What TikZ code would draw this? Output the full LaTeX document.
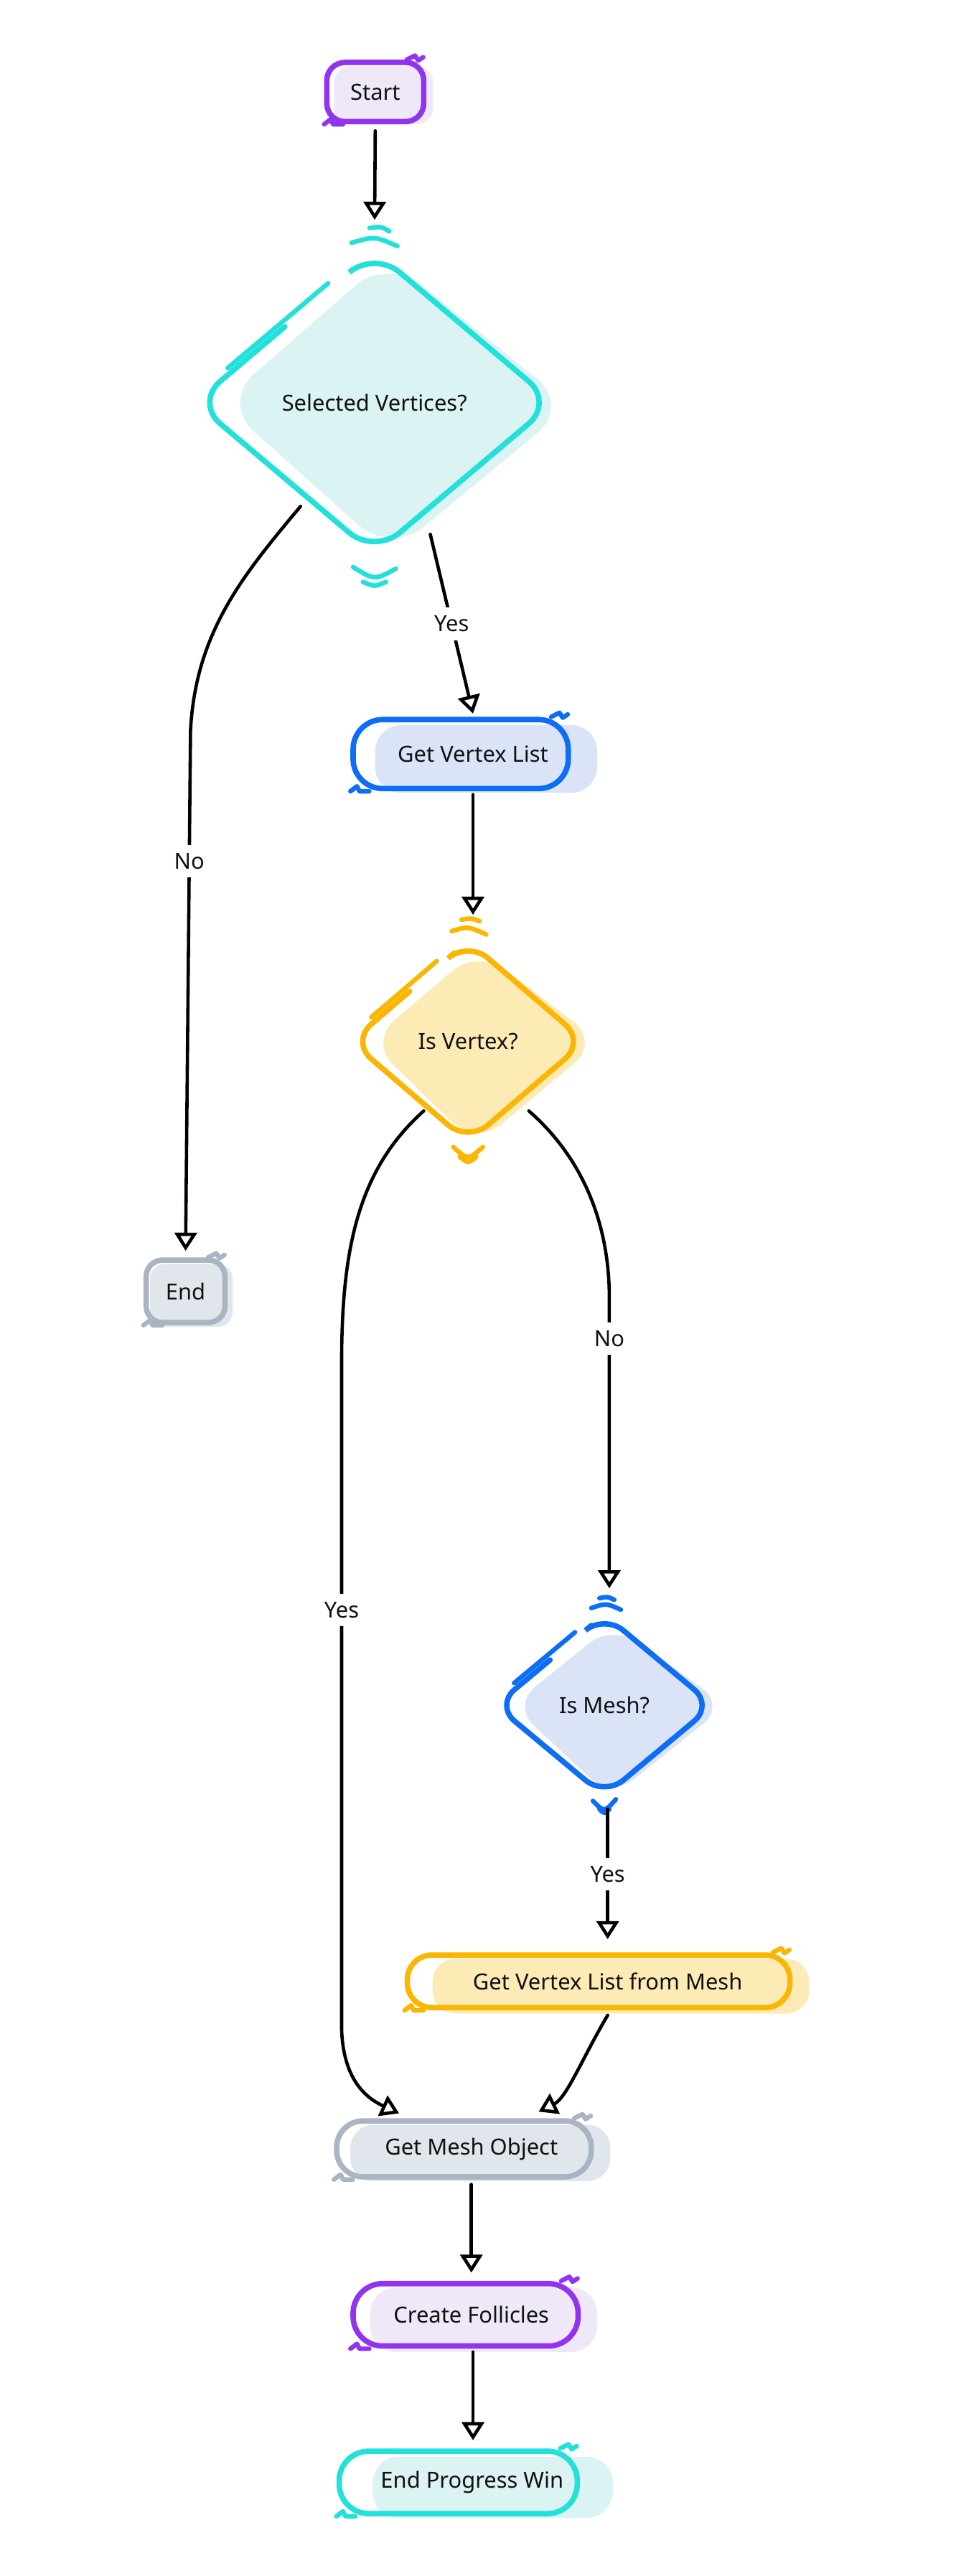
\documentclass[tikz,border=0pt]{standalone}
\usepackage{fontspec}
\setmainfont{Noto Sans}
\usetikzlibrary{arrows.meta,shapes.geometric,backgrounds,calc}
\definecolor{purS}{HTML}{9233F0}
\definecolor{purF}{HTML}{EEE8F8}
\definecolor{tealS}{HTML}{22E0DA}
\definecolor{tealF}{HTML}{DBF3F2}
\definecolor{bluS}{HTML}{0D6EF5}
\definecolor{bluF}{HTML}{DBE4F6}
\definecolor{yelS}{HTML}{FBB603}
\definecolor{yelF}{HTML}{FDEBB6}
\definecolor{gryS}{HTML}{A9B5C3}
\definecolor{gryF}{HTML}{E1E6EC}
\definecolor{ink}{HTML}{111111}
\tikzset{
  box/.style={draw=#1, line width=3.3pt, inner sep=0pt, text=ink},
  dia/.style={diamond, draw=none, inner sep=0pt, text=ink},
  dstroke/.style={draw=#1, line width=3.3pt, line cap=round},
  thin mark/.style={draw=#1, line width=2.8pt, line cap=round, line join=round},
  conn/.style={draw=black, line width=2pt, line cap=round,
    -{Triangle[open, length=11pt, width=13.5pt, line width=2pt]}},
  lbl/.style={fill=white, inner xsep=2pt, inner ysep=5pt, text=ink},
}
\begin{document}
\begin{tikzpicture}[x=1pt,y=-1pt, font=\fontsize{13.5}{16}\selectfont]
\useasboundingbox (0,0) rectangle (582,1568);

% ---------- nodes ----------
\node[box=purS, minimum width=59pt, minimum height=36pt, rounded corners=11pt] (start) at (228.5,56) {Start};
\node[dia, minimum width=218pt, minimum height=184pt] (sv) at (228,245) {Selected Vertices?};
\node[box=bluS, minimum width=131pt, minimum height=42pt, rounded corners=18pt] (gvl) at (280.5,459) {\hspace*{15pt}Get Vertex List};
\node[box=gryS, minimum width=48pt, minimum height=38pt, rounded corners=10pt] (endn) at (113,786) {End};
\node[dia, minimum width=142pt, minimum height=122pt] (iv) at (285,634) {Is Vertex?};
\node[dia, minimum width=132pt, minimum height=110pt] (ism) at (368,1038) {Is Mesh?};
\node[box=yelS, minimum width=233pt, minimum height=32pt, rounded corners=15pt] (gvlm) at (364.5,1206) {\hspace*{11pt}Get Vertex List from Mesh};
\node[box=gryS, minimum width=155pt, minimum height=34pt, rounded corners=16pt] (gmo) at (282.5,1308) {\hspace*{9pt}Get Mesh Object};
\node[box=purS, minimum width=137pt, minimum height=38pt, rounded corners=18pt] (cf) at (283.5,1409) {\hspace*{7pt}Create Follicles};
\node[box=tealS, minimum width=145pt, minimum height=38pt, rounded corners=18pt] (epw) at (279,1511) {\hspace*{17pt}End Progress Win};

% ---------- diamond strokes ----------
\foreach \n/\c/\r in {sv/tealS/20pt, iv/yelS/16pt, ism/bluS/15pt}{
  \draw[dstroke=\c, rounded corners=\r] ($(\n.north)!0.12!(\n.west)$) -- (\n.north) -- (\n.east) -- (\n.south) -- (\n.west) -- ($(\n.west)!0.5!(\n.north)$);
  \draw[thin mark=\c] ($(\n.west)!0.2!(\n.north)+(-2,-2.5)$) -- ($(\n.west)!0.76!(\n.north)+(-2,-2.5)$);
}
% little arcs above / below diamonds
\draw[thin mark=tealS] ($(sv.north)+(-14,-5)$) .. controls ($(sv.north)+(0,-9)$) .. ($(sv.north)+(14,-3)$);
\draw[thin mark=tealS] ($(sv.north)+(-3,-14)$) .. controls ($(sv.north)+(4,-15)$) .. ($(sv.north)+(9,-12)$);
\draw[thin mark=tealS] ($(sv.south)+(-13,8)$) .. controls ($(sv.south)+(0,16)$) .. ($(sv.south)+(13,9)$);
\draw[thin mark=tealS] ($(sv.south)+(-7,17)$) .. controls ($(sv.south)+(0,20)$) .. ($(sv.south)+(7,17)$);
\draw[thin mark=yelS] ($(iv.north)+(-10,-6)$) .. controls ($(iv.north)+(0,-9)$) .. ($(iv.north)+(11,-4)$);
\draw[thin mark=yelS] ($(iv.north)+(-4,-13)$) .. controls ($(iv.north)+(2,-14)$) .. ($(iv.north)+(7,-12)$);
\draw[thin mark=yelS] ($(iv.south)+(-9,3)$) .. controls ($(iv.south)+(0,11)$) .. ($(iv.south)+(9,3)$);
\draw[thin mark=yelS] ($(iv.south)+(-5,9)$) .. controls ($(iv.south)+(0,13)$) .. ($(iv.south)+(5,9)$);
\draw[thin mark=bluS] ($(ism.north)+(-8,-4)$) .. controls ($(ism.north)+(1,-7)$) .. ($(ism.north)+(10,-3)$);
\draw[thin mark=bluS] ($(ism.north)+(-3,-10)$) .. controls ($(ism.north)+(2,-11)$) .. ($(ism.north)+(6,-9)$);
\draw[thin mark=bluS] ($(ism.south)+(-7,3)$) .. controls ($(ism.south)+(0,10)$) .. ($(ism.south)+(7,2)$);
\draw[thin mark=bluS] ($(ism.south)+(-3,8)$) .. controls ($(ism.south)+(0,11)$) .. ($(ism.south)+(3,8)$);

% ---------- box scribbles ----------
\foreach \n/\c in {start/purS, gvl/bluS, endn/gryS, gvlm/yelS, gmo/gryS, cf/purS, epw/tealS}{
  \draw[thin mark=\c] ($(\n.north east)+(-12,0)$) -- ++(5,-2.5) -- ++(2,3) -- ++(3,-2);
  \draw[thin mark=\c] ($(\n.south west)+(0,0)$) -- ++(4,-3) -- ++(1.5,3) -- ++(6,0);
}

% ---------- fills ----------
\begin{scope}[on background layer]
  \fill[white] (0,0) rectangle (582,1568);
  \fill[purF, rounded corners=10pt] ($(start.north west)+(6,4)$) rectangle ($(start.south east)+(4,0)$);
  \fill[bluF, rounded corners=16pt] ($(gvl.north west)+(15,5)$) rectangle ($(gvl.south east)+(16,1)$);
  \fill[gryF, rounded corners=9pt] ($(endn.north west)+(4,4)$) rectangle ($(endn.south east)+(3,1)$);
  \fill[yelF, rounded corners=14pt] ($(gvlm.north west)+(17,4)$) rectangle ($(gvlm.south east)+(10,2)$);
  \fill[gryF, rounded corners=14pt] ($(gmo.north west)+(10,4)$) rectangle ($(gmo.south east)+(10,1)$);
  \fill[purF, rounded corners=16pt] ($(cf.north west)+(12,4)$) rectangle ($(cf.south east)+(10,2)$);
  \fill[tealF, rounded corners=16pt] ($(epw.north west)+(22,5)$) rectangle ($(epw.south east)+(20,1)$);
  \fill[tealF, rounded corners=26pt] ($(sv.west)+(16,0)$) -- ($(sv.north)+(8,4)$) -- ($(sv.east)+(10,2)$) -- ($(sv.south)+(10,0)$) -- cycle;
  \fill[yelF, rounded corners=20pt] ($(iv.west)+(11,0)$) -- ($(iv.north)+(6,5)$) -- ($(iv.east)+(9,0)$) -- ($(iv.south)+(5,2)$) -- cycle;
  \fill[bluF, rounded corners=18pt] ($(ism.west)+(10,0)$) -- ($(ism.north)+(5,6)$) -- ($(ism.east)+(8,0)$) -- ($(ism.south)+(4,1)$) -- cycle;
\end{scope}

% ---------- connectors ----------
\draw[conn, shorten <=4pt, shorten >=19pt] (start.south) -- (sv.north);
\draw[conn] ($(sv.south)+(34,-12)$) -- node[lbl]{Yes} ($(gvl.north)+(7.5,-2)$);
\draw[conn] ($(sv.south)+(-45,-29)$) .. controls (148,350) and (119,385) .. (116,445)
   -- node[lbl, pos=0.25]{No} ($(endn.north)+(0,-4)$);
\draw[conn] ($(gvl.south)+(7.5,2)$) -- ($(iv.north)+(3,-16)$);
\draw[conn] ($(iv.south)+(-27,-19)$) .. controls (218,712) and (208,760) .. (208,830)
   -- node[lbl, pos=0.37]{Yes} (208,1235) .. controls (209,1268) and (225,1278) .. ($(gmo.north)+(-39.5,-3)$);
\draw[conn] ($(iv.south)+(37,-19)$) .. controls (355,705) and (371,745) .. (371,790)
   -- node[lbl, pos=0.14]{No} ($(ism.north)+(3,-16)$);
\draw[conn] ($(ism.south)+(2,8)$) -- node[lbl]{Yes} ($(gvlm.north)+(5.5,-8)$);
\draw[conn] ($(gvlm.south)+(5.5,3)$) .. controls (355,1252) and (345,1277) .. ($(gmo.north)+(45.5,-4)$);
\draw[conn] ($(gmo.south)+(4.5,3)$) -- ($(cf.north)+(3.5,-5)$);
\draw[conn] ($(cf.south)+(4.5,2)$) -- ($(epw.north)+(9,-5)$);
\end{tikzpicture}
\end{document}
